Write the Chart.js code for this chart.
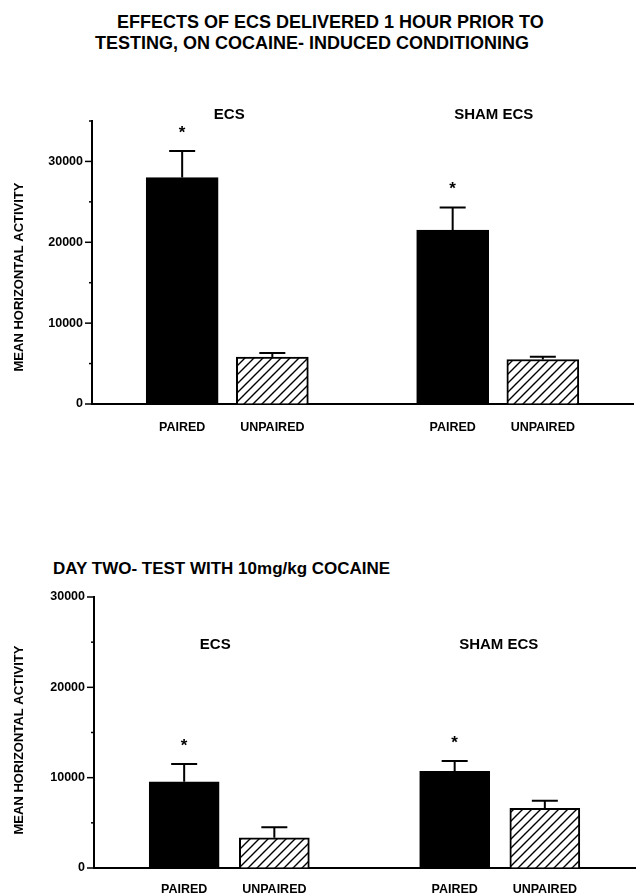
<!DOCTYPE html>
<html>
<head>
<meta charset="utf-8">
<script src="https://cdn.jsdelivr.net/npm/chart.js@4"></script>
<style>
  body { margin: 0; background: #fff; width: 641px; height: 893px; position: relative; overflow: hidden; }
  .ttl { position: absolute; font-family: "Liberation Sans", Arial, sans-serif; font-weight: bold; color: #000; white-space: nowrap; }
  .box { position: absolute; left: 0; width: 641px; }
</style>
</head>
<body>
<div class="ttl" style="left:117px; top:11px; font-size:18px; line-height:22px;">EFFECTS OF ECS DELIVERED 1 HOUR PRIOR TO</div>
<div class="ttl" style="left:95px; top:32px; font-size:18px; line-height:22px;">TESTING, ON COCAINE- INDUCED CONDITIONING</div>
<div class="box" style="top:0; height:440px;"><canvas id="top"></canvas></div>
<div class="ttl" style="left:53px; top:559px; font-size:17px; line-height:20px;">DAY TWO- TEST WITH 10mg/kg COCAINE</div>
<div class="box" style="top:540px; height:353px;"><canvas id="bottom"></canvas></div>
<script>
const groups = ["ECS", "SHAM ECS"];
const conditions = ["PAIRED", "UNPAIRED"];

// day one (top panel)
const topPaired = [28000, 21500];
const topPairedErr = [31300, 24300];
const topUnpaired = [5800, 5500];
const topUnpairedErr = [6300, 5850];

// day two (bottom panel)
const botPaired = [9550, 10700];
const botPairedErr = [11500, 11850];
const botUnpaired = [3350, 6600];
const botUnpairedErr = [4500, 7450];

const pairedSig = [true, true];
const axisTitle = "MEAN HORIZONTAL ACTIVITY";
const FONT = "'Liberation Sans', Arial, sans-serif";

// slots: blank, P, U, blank, P, U, blank
const slotLabels = [""];
groups.forEach(() => { conditions.forEach(c => slotLabels.push(c)); slotLabels.push(""); });

function slotData(values, cond) {
  const out = slotLabels.map(() => null);
  values.forEach((v, g) => { out[1 + g * 3 + cond] = v; });
  return out;
}

function hatch() {
  const c = document.createElement("canvas");
  c.width = 9; c.height = 9;
  const x = c.getContext("2d");
  x.fillStyle = "#fff"; x.fillRect(0, 0, 9, 9);
  x.strokeStyle = "#000"; x.lineWidth = 1.4;
  x.beginPath();
  x.moveTo(-1, 10); x.lineTo(10, -1);
  x.moveTo(-2, 2); x.lineTo(2, -2);
  x.moveTo(7, 11); x.lineTo(11, 7);
  x.stroke();
  return x.createPattern(c, "repeat");
}

const decor = {
  id: "decor",
  afterDraw(chart, args, opts) {
    const ctx = chart.ctx;
    const y = chart.scales.y, xs = chart.scales.x;
    ctx.save();
    ctx.strokeStyle = "#000";
    ctx.fillStyle = "#000";
    // y tick marks, long at labelled values
    ctx.lineWidth = 1.5;
    y.ticks.forEach(t => {
      const py = y.getPixelForValue(t.value);
      const len = t.value % 10000 === 0 && t.value <= 30000 ? 7 : 3;
      ctx.beginPath();
      ctx.moveTo(y.right - len, py); ctx.lineTo(y.right, py);
      ctx.stroke();
    });
    // error bars + asterisks
    ctx.lineWidth = 2;
    [opts.pairedErr, opts.unpairedErr].forEach((errs, d) => {
      const meta = chart.getDatasetMeta(d);
      errs.forEach((e, g) => {
        const el = meta.data[1 + g * 3 + d];
        const pe = y.getPixelForValue(e);
        ctx.beginPath();
        ctx.moveTo(el.x, el.y); ctx.lineTo(el.x, pe);
        ctx.moveTo(el.x - 13, pe); ctx.lineTo(el.x + 13, pe);
        ctx.stroke();
        if (d === 0 && pairedSig[g]) {
          ctx.font = "bold 17px " + FONT;
          ctx.textAlign = "center";
          ctx.textBaseline = "middle";
          ctx.fillText("*", el.x, pe - 18);
        }
      });
    });
    // group labels
    ctx.font = "bold 15px " + FONT;
    ctx.textAlign = "center";
    ctx.textBaseline = "middle";
    groups.forEach((name, g) => {
      const cx = (xs.getPixelForValue(1 + g * 3) + xs.getPixelForValue(2 + g * 3)) / 2 + opts.labelShift[g];
      ctx.fillText(name, cx, y.getPixelForValue(opts.labelAt));
    });
    // axis title
    ctx.font = "bold 13px " + FONT;
    ctx.translate(19, opts.titleY);
    ctx.rotate(-Math.PI / 2);
    ctx.fillText(axisTitle, 0, 0);
    ctx.restore();
  }
};

function makeChart(id, cfg) {
  const pattern = hatch();
  return new Chart(document.getElementById(id), {
    type: "bar",
    data: {
      labels: slotLabels,
      datasets: [
        { data: slotData(cfg.paired, 0), backgroundColor: "#000", borderColor: "#000", borderWidth: 2 },
        { data: slotData(cfg.unpaired, 1), backgroundColor: pattern, borderColor: "#000", borderWidth: 2 }
      ]
    },
    options: {
      responsive: true,
      maintainAspectRatio: false,
      animation: false,
      datasets: { bar: { grouped: false, barThickness: cfg.barW, skipNull: true } },
      layout: { padding: { top: cfg.padTop, left: 0, right: 0, bottom: 0 } },
      plugins: {
        legend: { display: false },
        tooltip: { enabled: false },
        decor: {
          pairedErr: cfg.pairedErr, unpairedErr: cfg.unpairedErr,
          labelAt: cfg.labelAt, labelShift: cfg.labelShift, titleY: cfg.titleY
        }
      },
      scales: {
        x: {
          type: "category",
          offset: false,
          grid: { display: false },
          border: { display: true, color: "#000", width: 2 },
          ticks: { autoSkip: false, maxRotation: 0, padding: cfg.xPad, color: "#000", font: { family: FONT, weight: "bold", size: 12.5 } },
          afterFit: s => { s.height = cfg.xH; }
        },
        y: {
          min: 0, max: cfg.yMax,
          grid: { display: true, drawOnChartArea: false, drawTicks: true, tickLength: 9, tickColor: "rgba(0,0,0,0)" },
          border: { display: true, color: "#000", width: 2 },
          ticks: {
            stepSize: 5000, padding: 0, color: "#000",
            font: { family: FONT, weight: "bold", size: 12.5 },
            callback: v => (v % 10000 === 0 && v <= 30000) ? String(v) : ""
          },
          afterFit: s => { s.width = cfg.yW; }
        }
      }
    },
    plugins: [decor]
  });
}

makeChart("top", {
  paired: topPaired, pairedErr: topPairedErr,
  unpaired: topUnpaired, unpairedErr: topUnpairedErr,
  yMax: 35000, padTop: 121, xH: 36, yW: 92, barW: 72, xPad: 8,
  labelAt: 35750, labelShift: [2, -4], titleY: 277
});

makeChart("bottom", {
  paired: botPaired, pairedErr: botPairedErr,
  unpaired: botUnpaired, unpairedErr: botUnpairedErr,
  yMax: 30000, padTop: 57, xH: 25, yW: 94, barW: 70, xPad: 6,
  labelAt: 24700, labelShift: [-14, -1], titleY: 200
});
</script>
</body>
</html>
